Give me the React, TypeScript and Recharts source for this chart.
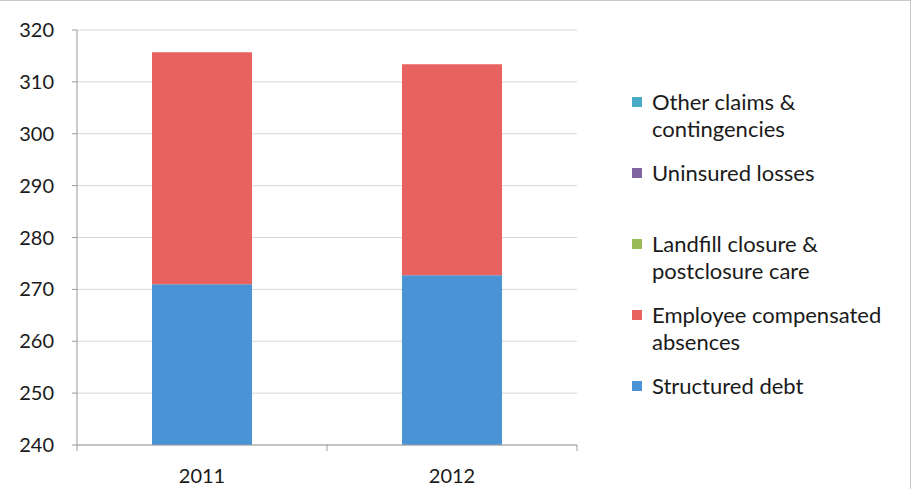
import { BarChart, Bar, XAxis, YAxis, CartesianGrid } from "recharts";

const years = ["2011", "2012"];
const structuredDebt = [271.0, 272.7];
const employeeAbsences = [44.7, 40.7];
const landfill = [0, 0];
const uninsured = [0, 0];
const otherClaims = [0, 0];
const yTicks = [240, 250, 260, 270, 280, 290, 300, 310, 320];

const series = [
  { key: "structured", name: "Structured debt", values: structuredDebt, color: "#4a94d5" },
  { key: "employee", name: "Employee compensated absences", values: employeeAbsences, color: "#e8625f" },
  { key: "landfill", name: "Landfill closure & postclosure care", values: landfill, color: "#9bbb59" },
  { key: "uninsured", name: "Uninsured losses", values: uninsured, color: "#8064a2" },
  { key: "other", name: "Other claims & contingencies", values: otherClaims, color: "#4bacc6" },
];

const legendLines: Record<string, string[]> = {
  other: ["Other claims &", "contingencies"],
  uninsured: ["Uninsured losses"],
  landfill: ["Landfill closure &", "postclosure care"],
  employee: ["Employee compensated", "absences"],
  structured: ["Structured debt"],
};

const data = years.map((year, i) => {
  const row: Record<string, string | number> = { year, pos: i + 0.5 };
  series.forEach((s) => {
    row[s.key] = s.values[i];
  });
  return row;
});

const font = "Lato, 'Open Sans', sans-serif";

function LegendBox() {
  const items = [...series].reverse();
  return (
    <div
      style={{
        position: "absolute",
        left: 632,
        top: 87,
        fontFamily: font,
        fontSize: 22,
        color: "#1a1a1a",
      }}
    >
      {items.map((s) => (
        <div key={s.key} style={{ height: 71, display: "flex", alignItems: "flex-start" }}>
          <div
            style={{
              width: 10,
              height: 10,
              background: s.color,
              marginTop: 9,
              marginRight: 10,
              flex: "none",
            }}
          />
          <div style={{ lineHeight: "27px", whiteSpace: "nowrap" }}>
            {legendLines[s.key].map((l) => (
              <div key={l}>{l}</div>
            ))}
          </div>
        </div>
      ))}
    </div>
  );
}

export default function App() {
  return (
    <div
      style={{
        position: "absolute",
        left: 0,
        top: 0,
        width: 911,
        height: 489,
        background: "#fff",
        borderTop: "1px solid #c8c8c8",
        borderRight: "1px solid #c8c8c8",
        boxSizing: "border-box",
      }}
    >
      <BarChart
        width={910}
        height={488}
        data={data}
        margin={{ top: 29, right: 333, left: 17, bottom: 8 }}
      >
        <CartesianGrid vertical={false} stroke="#d6d6d6" xAxisId="b" />
        <XAxis
          xAxisId="a"
          dataKey="pos"
          type="number"
          domain={[0, 2]}
          ticks={[0, 1, 2]}
          interval={0}
          height={1}
          stroke="#9a9a9a"
          tickSize={6}
          tickFormatter={() => ""}
        />
        <XAxis
          xAxisId="b"
          dataKey="year"
          height={35}
          axisLine={false}
          tickLine={false}
          tickSize={0}
          tickMargin={23}
          tick={{ fill: "#1a1a1a", fontSize: 20, fontFamily: font }}
        />
        <YAxis
          width={60}
          domain={[240, 320]}
          ticks={yTicks}
          allowDataOverflow
          stroke="#9a9a9a"
          tickSize={5}
          tickMargin={18}
          tick={{ fill: "#1a1a1a", fontSize: 20, fontFamily: font }}
        />
        {series.map((s) => (
          <Bar
            key={s.key}
            xAxisId="b"
            dataKey={s.key}
            name={s.name}
            stackId="a"
            fill={s.color}
            barSize={100}
            isAnimationActive={false}
          />
        ))}
      </BarChart>
      <LegendBox />
    </div>
  );
}
